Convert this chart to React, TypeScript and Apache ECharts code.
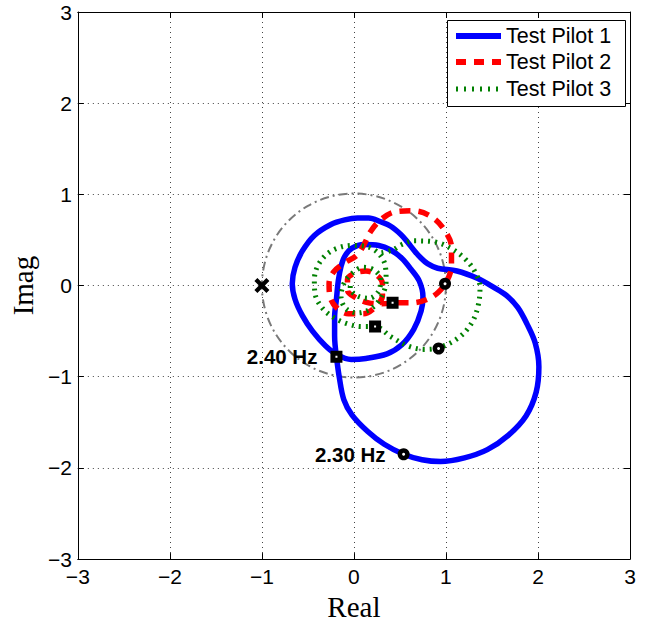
import React, { useEffect, useRef } from "react";
import * as echarts from "echarts";

// Axis ticks
const axisTicks = [-3, -2, -1, 0, 1, 2, 3];

// Test Pilot 1 (Real, Imag)
const pilot1Path: number[][] = [
  [-0.19, -0.78], [-0.16, -1.0], [-0.11, -1.25], [-0.02, -1.42], [0.15, -1.6], [0.33, -1.74],
  [0.54, -1.85], [0.74, -1.91], [0.94, -1.93], [1.2, -1.89], [1.45, -1.8], [1.68, -1.64],
  [1.87, -1.43], [1.98, -1.17], [2.01, -0.89], [1.97, -0.63], [1.88, -0.42], [1.78, -0.24],
  [1.66, -0.11], [1.52, -0.02], [1.34, 0.08], [1.12, 0.16], [0.91, 0.19], [0.8, 0.24],
  [0.72, 0.31], [0.65, 0.39], [0.58, 0.48], [0.51, 0.56], [0.4, 0.65], [0.29, 0.7],
  [0.16, 0.74], [0.04, 0.74], [-0.1, 0.72], [-0.25, 0.67], [-0.43, 0.55], [-0.56, 0.38],
  [-0.64, 0.2], [-0.67, 0.02], [-0.64, -0.15], [-0.56, -0.33], [-0.45, -0.5], [-0.31, -0.66],
  [-0.18, -0.76], [-0.03, -0.81], [0.13, -0.8], [0.36, -0.75], [0.52, -0.65], [0.65, -0.48],
  [0.73, -0.28], [0.75, -0.12], [0.71, 0.05], [0.62, 0.18], [0.52, 0.3], [0.4, 0.39],
  [0.27, 0.44], [0.11, 0.45], [-0.02, 0.41], [-0.1, 0.32], [-0.14, 0.21], [-0.17, 0.05],
  [-0.19, -0.15], [-0.21, -0.35], [-0.21, -0.55], [-0.19, -0.78],
];

// Test Pilot 2 (Real, Imag)
const pilot2Path: number[][] = [
  [0.42, -0.19], [0.3, -0.2], [0.16, -0.19], [0.03, -0.14], [-0.07, -0.05], [-0.07, 0.07],
  [0.02, 0.14], [0.13, 0.16], [0.24, 0.12], [0.31, 0.02], [0.31, -0.11], [0.24, -0.23],
  [0.1, -0.31], [-0.06, -0.31], [-0.19, -0.24], [-0.26, -0.12], [-0.27, 0.02], [-0.22, 0.15],
  [-0.1, 0.25], [0.03, 0.33], [0.11, 0.45], [0.18, 0.59], [0.29, 0.72], [0.45, 0.81],
  [0.65, 0.82], [0.85, 0.75], [0.99, 0.6], [1.06, 0.42], [1.06, 0.22], [1.01, 0.05],
  [0.92, -0.07], [0.8, -0.15], [0.62, -0.19], [0.42, -0.19],
];

// Test Pilot 3 (Real, Imag)
const pilot3Path: number[][] = [
  [0.3, 0.36], [0.42, 0.39], [0.52, 0.45], [0.65, 0.49], [0.87, 0.48], [1.05, 0.41],
  [1.2, 0.3], [1.31, 0.16], [1.37, -0.02], [1.35, -0.22], [1.28, -0.41], [1.14, -0.57],
  [0.93, -0.68], [0.76, -0.7], [0.58, -0.66], [0.4, -0.56], [0.23, -0.45], [0.08, -0.45],
  [-0.07, -0.42], [-0.22, -0.35], [-0.34, -0.25], [-0.42, -0.1], [-0.43, 0.06], [-0.4, 0.2],
  [-0.31, 0.33], [-0.18, 0.41], [-0.02, 0.44], [0.13, 0.43], [0.26, 0.36], [0.34, 0.22],
  [0.35, 0.05], [0.3, -0.12], [0.19, -0.25], [0.04, -0.3], [-0.09, -0.25], [-0.14, -0.12],
  [-0.1, 0.04], [0.0, 0.15], [0.1, 0.2], [0.22, 0.17], [0.29, 0.07], [0.27, -0.06],
  [0.16, -0.14], [0.03, -0.11], [-0.04, -0.03], [-0.04, 0.02],
];

// Frequency markers (squares / circles)
const squareMarkers: (number | string)[][] = [
  [-0.19, -0.78, "2.40 Hz"],
  [0.42, -0.19, ""],
  [0.23, -0.45, ""],
];
const circleMarkers: (number | string)[][] = [
  [0.54, -1.85, "2.30 Hz"],
  [0.99, 0.02, ""],
  [0.92, -0.69, ""],
];
// Critical point and unit circle [centerRe, centerIm, radius]
const criticalPoint: number[][] = [[-1, 0]];
const unitCircle: number[][] = [[0, 0, 1]];

const legendNames = ["Test Pilot 1", "Test Pilot 2", "Test Pilot 3"];

const SANS = "'Liberation Sans', Arial, Helvetica, sans-serif";
const SERIF = "'Liberation Serif', 'Times New Roman', serif";

const fmt = (v: number) => (v < 0 ? "\u2212" + Math.abs(v) : String(v));

export default function App() {
  const ref = useRef<HTMLDivElement>(null);
  useEffect(() => {
    if (!ref.current) return;
    const chart = echarts.init(ref.current, undefined, { renderer: "svg" });

    const commonAxis = {
      type: "value" as const,
      min: axisTicks[0],
      max: axisTicks[axisTicks.length - 1],
      interval: 1,
    };

    const legendY = [36, 62, 89];
    const legendLine = (i: number, style: any) => ({
      type: "line",
      shape: { x1: 456, y1: legendY[i], x2: 501, y2: legendY[i] },
      style,
      z: 101,
    });

    const markerLabel = (distance: number) => ({
      show: true,
      position: "left",
      distance,
      formatter: (p: any) => p.value[2],
      color: "#000",
      fontSize: 20.5,
      fontWeight: "bold",
      fontFamily: SANS,
    });

    chart.setOption({
      animation: false,
      backgroundColor: "#fff",
      grid: { left: 77, right: 18, top: 12, bottom: 62, show: false },
      xAxis: [
        {
          ...commonAxis,
          position: "bottom",
          axisLine: { show: true, onZero: false, lineStyle: { color: "#000", width: 1 } },
          axisTick: { show: true, inside: true, length: 6, lineStyle: { color: "#000" } },
          axisLabel: { color: "#000", fontSize: 21, fontFamily: SANS, margin: 7, formatter: fmt },
          splitLine: { show: true, lineStyle: { color: "#444", width: 1, type: [1, 4] } },
          name: "Real",
          nameLocation: "middle",
          nameGap: 30,
          nameTextStyle: { color: "#000", fontSize: 29, fontFamily: SERIF },
        },
        {
          ...commonAxis,
          position: "top",
          axisLine: { show: true, onZero: false, lineStyle: { color: "#000", width: 1 } },
          axisTick: { show: true, inside: true, length: 6, lineStyle: { color: "#000" } },
          axisLabel: { show: false },
          splitLine: { show: false },
        },
      ],
      yAxis: [
        {
          ...commonAxis,
          position: "left",
          axisLine: { show: true, onZero: false, lineStyle: { color: "#000", width: 1 } },
          axisTick: { show: true, inside: true, length: 6, lineStyle: { color: "#000" } },
          axisLabel: { color: "#000", fontSize: 21, fontFamily: SANS, margin: 6, formatter: fmt },
          splitLine: { show: true, lineStyle: { color: "#444", width: 1, type: [1, 4] } },
          name: "Imag",
          nameLocation: "middle",
          nameGap: 40,
          nameRotate: 90,
          nameTextStyle: { color: "#000", fontSize: 29, fontFamily: SERIF },
        },
        {
          ...commonAxis,
          position: "right",
          axisLine: { show: true, onZero: false, lineStyle: { color: "#000", width: 1 } },
          axisTick: { show: true, inside: true, length: 6, lineStyle: { color: "#000" } },
          axisLabel: { show: false },
          splitLine: { show: false },
        },
      ],
      series: [
        {
          type: "custom",
          name: "unit circle",
          coordinateSystem: "cartesian2d",
          data: unitCircle,
          silent: true,
          z: 1,
          renderItem: (_p: any, api: any) => {
            const c = api.coord([api.value(0), api.value(1)]);
            const r = api.size([api.value(2), 0])[0];
            return {
              type: "circle",
              shape: { cx: c[0], cy: c[1], r },
              style: { fill: "none", stroke: "#7a7a7a", lineWidth: 2, lineDash: [9, 4, 2, 4] },
            };
          },
        },
        {
          type: "line",
          name: legendNames[0],
          data: pilot1Path,
          showSymbol: false,
          smooth: 0.35,
          z: 2,
          lineStyle: { color: "#0000ff", width: 5.5, cap: "round", join: "round" },
        },
        {
          type: "line",
          name: legendNames[1],
          data: pilot2Path,
          showSymbol: false,
          smooth: 0.35,
          z: 3,
          lineStyle: { color: "#ff0000", width: 5.5, type: [11, 8], cap: "butt" },
        },
        {
          type: "line",
          name: legendNames[2],
          data: pilot3Path,
          showSymbol: false,
          smooth: 0.35,
          z: 4,
          lineStyle: { color: "#008000", width: 5, type: [2, 5], cap: "butt" },
        },
        {
          type: "scatter",
          name: "critical",
          data: criticalPoint,
          symbol: "path://M2,0L5,3L8,0L10,2L7,5L10,8L8,10L5,7L2,10L0,8L3,5L0,2Z",
          symbolSize: 15,
          itemStyle: { color: "#000", opacity: 1 },
          z: 5,
        },
        {
          type: "scatter",
          name: "square markers",
          data: squareMarkers,
          symbol: "rect",
          symbolSize: 7,
          itemStyle: { color: "#fff", borderColor: "#000", borderWidth: 5, opacity: 1 },
          z: 6,
          label: markerLabel(13),
        },
        {
          type: "scatter",
          name: "circle markers",
          data: circleMarkers,
          symbol: "circle",
          symbolSize: 7.5,
          itemStyle: { color: "#fff", borderColor: "#000", borderWidth: 4.5, opacity: 1 },
          z: 6,
          label: markerLabel(12),
        },
      ],
      graphic: [
        {
          type: "rect",
          shape: { x: 447.5, y: 20.5, width: 178, height: 86 },
          style: { fill: "#fff", stroke: "#000", lineWidth: 1 },
          z: 100,
        },
        legendLine(0, { stroke: "#0000ff", lineWidth: 6 }),
        legendLine(1, { stroke: "#ff0000", lineWidth: 6, lineDash: [10, 8] }),
        legendLine(2, { stroke: "#008000", lineWidth: 5, lineDash: [2, 6] }),
        ...legendNames.map((n, i) => ({
          type: "text",
          x: 506,
          y: legendY[i],
          style: {
            text: n,
            fill: "#000",
            fontSize: 21.5,
            fontFamily: SANS,
            verticalAlign: "middle",
            align: "left",
          },
          z: 101,
        })),
      ],
    });
    return () => chart.dispose();
  }, []);
  return (
    <div
      ref={ref}
      style={{ position: "absolute", left: 0, top: 0, width: 648, height: 626 }}
    />
  );
}
